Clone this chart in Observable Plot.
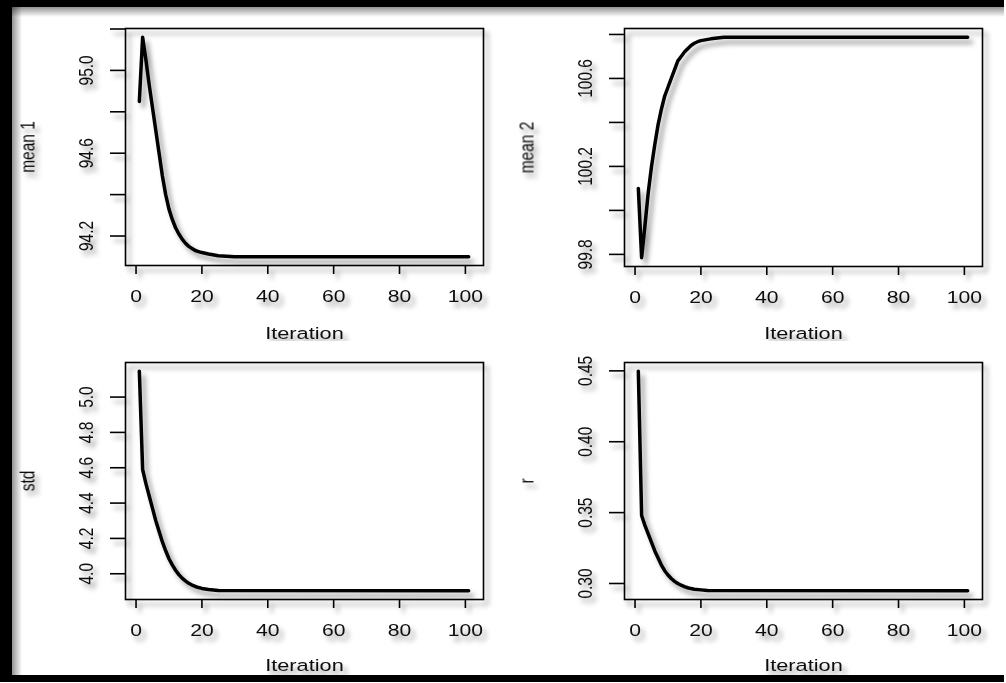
<!DOCTYPE html>
<html>
<head>
<meta charset="utf-8">
<script src="https://cdn.jsdelivr.net/npm/d3@7"></script>
<script src="https://cdn.jsdelivr.net/npm/@observablehq/plot@0.6"></script>
<style>
  html, body { margin: 0; padding: 0; background: #fff; }
  #figure {
    position: relative; width: 1006px; height: 683px; overflow: hidden;
    background: #fff; font-family: "Liberation Sans", Arial, sans-serif;
  }
  #figure svg { position: absolute; }
  .bar { position: absolute; background: #000; }
  .shade-down { position: absolute; background: linear-gradient(to bottom, rgba(0,0,0,0.42), rgba(0,0,0,0)); }
  .shade-right { position: absolute; background: linear-gradient(to right, rgba(0,0,0,0.42), rgba(0,0,0,0)); }
</style>
</head>
<body>
<div id="figure">
  <div class="shade-down" style="left:12px;top:7px;width:992px;height:10px"></div>
  <div class="shade-right" style="left:12px;top:7px;width:10px;height:668px"></div>
  <div class="bar" style="left:0;top:0;width:1004px;height:7px"></div>
  <div class="bar" style="left:0;top:0;width:12px;height:682px"></div>
  <div class="bar" style="left:0;top:675px;width:1004px;height:7px"></div>
</div>
<script>
// Shared x axis: iteration number
const xTicks = [0, 20, 40, 60, 80, 100];
const xTitle = "Iteration";

// mean 1 trace
const mean1Iter = [1, 2, 3, 4, 5, 6, 7, 8, 9, 10, 11, 12, 13, 14, 15, 16, 17, 18, 19, 20, 22, 25, 30, 101];
const mean1 = [94.85, 95.16, 95.05, 94.93, 94.82, 94.71, 94.60, 94.49, 94.40, 94.33, 94.28, 94.24,
               94.21, 94.185, 94.165, 94.15, 94.14, 94.13, 94.125, 94.12, 94.113, 94.105, 94.10, 94.10];
const mean1Ticks = [94.2, 94.4, 94.6, 94.8, 95.0, 95.2];
const mean1Labels = [94.2, 94.6, 95.0];

// mean 2 trace
const mean2Iter = [1, 2, 3, 4, 5, 6, 7, 8, 9, 10, 11, 12, 13, 14, 15, 16, 17, 18, 19, 20, 23, 27, 101];
const mean2 = [100.10, 99.785, 99.93, 100.08, 100.20, 100.30, 100.39, 100.46, 100.52, 100.56, 100.60, 100.64,
               100.68, 100.70, 100.72, 100.735, 100.75, 100.76, 100.767, 100.772, 100.78, 100.787, 100.787];
const mean2Ticks = [99.8, 100.0, 100.2, 100.4, 100.6, 100.8];
const mean2Labels = [99.8, 100.2, 100.6];

// std trace
const stdIter = [1, 2, 3, 4, 5, 6, 7, 8, 9, 10, 11, 12, 13, 14, 15, 16, 17, 18, 19, 20, 22, 25, 101];
const std = [5.146, 4.59, 4.51, 4.44, 4.37, 4.30, 4.24, 4.18, 4.13, 4.085, 4.05, 4.02,
             3.995, 3.975, 3.96, 3.946, 3.936, 3.928, 3.922, 3.917, 3.911, 3.905, 3.904];
const stdTicks = [4.0, 4.2, 4.4, 4.6, 4.8, 5.0];
const stdLabels = [4.0, 4.2, 4.4, 4.6, 4.8, 5.0];

// r trace
const rIter = [1, 2, 3, 4, 5, 6, 7, 8, 9, 10, 11, 12, 13, 14, 15, 16, 17, 18, 20, 22, 101];
const r = [0.4497, 0.348, 0.341, 0.335, 0.329, 0.323, 0.318, 0.313, 0.309, 0.306, 0.3035,
           0.3015, 0.300, 0.2988, 0.2978, 0.297, 0.2964, 0.296, 0.2955, 0.2951, 0.2949];
const rTicks = [0.30, 0.35, 0.40, 0.45];
const rLabels = [0.30, 0.35, 0.40, 0.45];

const panels = [
  {name: "mean 1", iter: mean1Iter, vals: mean1, ticks: mean1Ticks, labels: mean1Labels, fmt: ".1f",
   left: 0, top: 0, width: 503, height: 341, m: [28, 20, 76, 125], titleDy: 68},
  {name: "mean 2", iter: mean2Iter, vals: mean2, ticks: mean2Ticks, labels: mean2Labels, fmt: ".1f",
   left: 503, top: 0, width: 503, height: 341, m: [28, 24, 75, 121], titleDy: 67},
  {name: "std", iter: stdIter, vals: std, ticks: stdTicks, labels: stdLabels, fmt: ".1f",
   left: 0, top: 341, width: 503, height: 342, m: [21, 20, 84, 125], titleDy: 66},
  {name: "r", iter: rIter, vals: r, ticks: rTicks, labels: rLabels, fmt: ".2f",
   left: 503, top: 341, width: 503, height: 342, m: [21, 24, 84, 121], titleDy: 66}
];

const font = "Liberation Sans, Arial, sans-serif";
const svgNS = "http://www.w3.org/2000/svg";

function drawPanel(p, k) {
  const rows = p.iter.map((x, i) => ({x, y: p.vals[i]}));
  const [lo, hi] = d3.extent(p.vals);
  const pad = 0.04 * (hi - lo);            // usual 4% range extension
  const [xlo, xhi] = d3.extent(p.iter);
  const xpad = 0.04 * (xhi - xlo);
  const fmt = d3.format(p.fmt);
  const svg = Plot.plot({
    width: p.width, height: p.height,
    marginTop: p.m[0], marginRight: p.m[1], marginBottom: p.m[2], marginLeft: p.m[3],
    style: {background: "transparent", overflow: "visible", fontFamily: font},
    x: {domain: [xlo - xpad - 0.2, xhi + xpad + 0.5], label: null},
    y: {domain: [lo - pad, hi + pad], label: null},
    marks: [
      Plot.frame({stroke: "#000", strokeWidth: 1.6}),
      Plot.axisX(xTicks, {tickSize: 9, tickPadding: 16, fontSize: 16, strokeWidth: 1.6, label: null, fill: "#111"}),
      Plot.axisY(p.ticks, {tickSize: 15, tickFormat: () => "", strokeWidth: 1.6, label: null}),
      Plot.text(p.labels, {y: d => d, text: d => fmt(d), frameAnchor: "left", dx: -39, rotate: -90,
                           textAnchor: "middle", lineAnchor: "middle", fontSize: 15.5, fill: "#111"}),
      Plot.text([p.name], {text: d => d, frameAnchor: "left", dx: -97, rotate: -90,
                           textAnchor: "middle", lineAnchor: "middle", fontSize: 15.5, fill: "#111"}),
      Plot.text([xTitle], {text: d => d, frameAnchor: "bottom", dy: p.titleDy,
                           textAnchor: "middle", lineAnchor: "middle", fontSize: 16.5, fill: "#111"}),
      Plot.line(rows, {x: "x", y: "y", stroke: "#000", strokeWidth: 3.5})
    ]
  });
  // widen the lettering the same way as the rest of the figure
  for (const t of svg.querySelectorAll("text")) {
    const tr = t.getAttribute("transform");
    if (tr && /rotate\(-90\)/.test(tr)) {
      t.setAttribute("transform", tr + " scale(1,1.3)");
    } else if (tr) {
      t.setAttribute("transform", tr + " scale(1.32,1)");
    } else {
      const x = t.getAttribute("x") || 0, y = t.getAttribute("y") || 0;
      t.removeAttribute("x"); t.removeAttribute("y");
      t.setAttribute("transform", `translate(${x},${y}) scale(1.32,1)`);
    }
  }
  // soft drop shadow behind every drawn element, kept inside the panel's own area
  const id = "shade" + k;
  const defs = document.createElementNS(svgNS, "defs");
  const filter = document.createElementNS(svgNS, "filter");
  filter.setAttribute("id", id);
  filter.setAttribute("filterUnits", "userSpaceOnUse");
  filter.setAttribute("x", "0"); filter.setAttribute("y", "0");
  filter.setAttribute("width", String(p.width - 4));
  filter.setAttribute("height", String(p.height));
  const ds = document.createElementNS(svgNS, "feDropShadow");
  ds.setAttribute("dx", "4"); ds.setAttribute("dy", "5");
  ds.setAttribute("stdDeviation", "2.5");
  ds.setAttribute("flood-color", "#000"); ds.setAttribute("flood-opacity", "0.4");
  filter.appendChild(ds); defs.appendChild(filter);
  const g = document.createElementNS(svgNS, "g");
  g.setAttribute("filter", `url(#${id})`);
  for (const child of Array.from(svg.childNodes)) {
    if (child.nodeName.toLowerCase() !== "style") g.appendChild(child);
  }
  svg.appendChild(defs);
  svg.appendChild(g);
  svg.style.left = p.left + "px";
  svg.style.top = p.top + "px";
  return svg;
}

const fig = document.getElementById("figure");
const firstLayer = fig.firstElementChild;
panels.forEach((p, k) => fig.insertBefore(drawPanel(p, k), firstLayer));
</script>
</body>
</html>
